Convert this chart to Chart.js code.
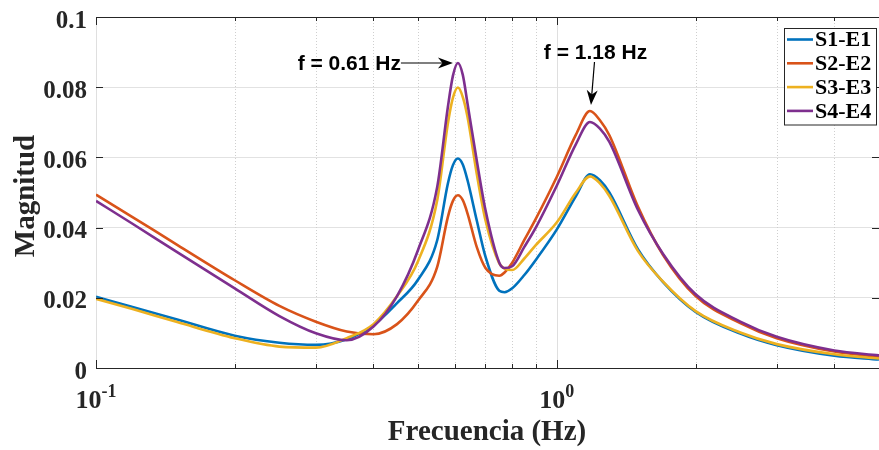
<!DOCTYPE html>
<html>
<head>
<meta charset="utf-8">
<script src="https://cdn.jsdelivr.net/npm/chart.js@4.4.0/dist/chart.umd.min.js"></script>
<style>
  html, body { margin: 0; padding: 0; background: #fff; }
  #wrap { width: 879px; height: 450px; }
</style>
</head>
<body>
<div id="wrap"><canvas id="magChart"></canvas></div>
<script>
// frequency grid (Hz) and magnitude of each response
const freqs = [0.1, 0.12, 0.15, 0.2, 0.25, 0.3, 0.35, 0.4, 0.45, 0.5, 0.55, 0.58, 0.595, 0.61, 0.625, 0.64, 0.67, 0.7,
               0.75, 0.77, 0.8, 0.85, 0.9, 1.0, 1.1, 1.18, 1.24, 1.3, 1.5, 1.7, 2, 2.5, 3, 4, 5];
const s1e1 = [0.0203, 0.0174, 0.0138, 0.0092, 0.0072, 0.0066, 0.0082, 0.0122, 0.0185, 0.0252, 0.0364, 0.0525, 0.0578, 0.0597, 0.0580, 0.0535, 0.0421, 0.0317,
              0.0220, 0.0216, 0.0227, 0.0265, 0.0308, 0.0395, 0.0490, 0.0552, 0.0535, 0.0500, 0.0338, 0.0245, 0.0160, 0.0098, 0.0065, 0.0035, 0.0024];
const s2e2 = [0.0494, 0.0430, 0.0351, 0.0250, 0.0177, 0.0132, 0.0104, 0.0096, 0.0125, 0.0192, 0.0288, 0.0430, 0.0476, 0.0492, 0.0478, 0.0440, 0.0345, 0.0285,
              0.0263, 0.0272, 0.0300, 0.0365, 0.0425, 0.0545, 0.0665, 0.0732, 0.0706, 0.0663, 0.0459, 0.0322, 0.0205, 0.0128, 0.0085, 0.0047, 0.0032];
const s3e3 = [0.0197, 0.0168, 0.0131, 0.0085, 0.0061, 0.0058, 0.0085, 0.0125, 0.0205, 0.0305, 0.0478, 0.0696, 0.0770, 0.0799, 0.0772, 0.0715, 0.0554, 0.0421,
              0.0298, 0.0283, 0.0279, 0.0312, 0.0350, 0.0415, 0.0500, 0.0546, 0.0526, 0.0490, 0.0333, 0.0246, 0.0162, 0.0101, 0.0068, 0.0039, 0.0027];
const s4e4 = [0.0476, 0.0411, 0.0330, 0.0227, 0.0148, 0.0099, 0.0079, 0.0118, 0.0205, 0.0337, 0.0516, 0.0743, 0.0833, 0.0869, 0.0835, 0.0753, 0.0592, 0.0450,
              0.0300, 0.0285, 0.0290, 0.0345, 0.0400, 0.0520, 0.0638, 0.0701, 0.0682, 0.0644, 0.0450, 0.0325, 0.0210, 0.0132, 0.0089, 0.0050, 0.0036];

const seriesNames = ['S1-E1', 'S2-E2', 'S3-E3', 'S4-E4'];
const seriesColors = ['#0072BD', '#D95319', '#EDB120', '#7E2F8E'];
const yTicks = [0, 0.02, 0.04, 0.06, 0.08, 0.1];
const peaks = [{ f: 0.61, text: 'f = 0.61 Hz' }, { f: 1.18, text: 'f = 1.18 Hz' }];

const AXIS = '#262626';
const SERIF = '"Liberation Serif", "Times New Roman", serif';
const SANS = '"Liberation Sans", Arial, sans-serif';

function toPoints(vals) {
  return freqs.map((f, i) => ({ x: f, y: vals[i] }));
}

function arrowHead(ctx, x0, y0, x1, y1, len, half) {
  const a = Math.atan2(y1 - y0, x1 - x0);
  const c = Math.cos(a), s = Math.sin(a);
  const bx = x1 - len * c, by = y1 - len * s;
  const nx = x1 - len * 0.7 * c, ny = y1 - len * 0.7 * s;
  ctx.beginPath();
  ctx.moveTo(x1, y1);
  ctx.lineTo(bx - half * s, by + half * c);
  ctx.lineTo(nx, ny);
  ctx.lineTo(bx + half * s, by - half * c);
  ctx.closePath();
  ctx.fill();
}

// log-axis grid positions: 0.1..0.9, 1..5
function xGridValues() {
  const out = [];
  for (const d of [0.1, 1]) {
    for (let k = 1; k <= 9; k++) {
      const v = d * k;
      if (v > 5.0001) break;
      out.push({ v, major: k === 1 });
    }
  }
  return out;
}

const axisDecor = {
  id: 'axisDecor',
  beforeDatasetsDraw(chart) {
    const { ctx, chartArea: a, scales: { x } } = chart;
    ctx.save();
    ctx.lineWidth = 1;
    for (const g of xGridValues()) {
      const px = Math.round(x.getPixelForValue(g.v)) + 0.5;
      if (g.major) { ctx.setLineDash([]); ctx.strokeStyle = '#dfdfdf'; }
      else { ctx.setLineDash([1, 2]); ctx.strokeStyle = '#cfcfcf'; }
      ctx.beginPath(); ctx.moveTo(px, a.top); ctx.lineTo(px, a.bottom); ctx.stroke();
    }
    ctx.restore();
  },
  afterDatasetsDraw(chart) {
    const { ctx, chartArea: a, scales: { x, y } } = chart;
    ctx.save();
    ctx.strokeStyle = AXIS;
    ctx.lineWidth = 1;
    // frame top and inward tick marks
    ctx.beginPath();
    ctx.moveTo(a.left, a.top + 0.5); ctx.lineTo(a.right, a.top + 0.5);
    for (const g of xGridValues()) {
      const px = Math.round(x.getPixelForValue(g.v)) + 0.5;
      const len = g.major ? 8 : 4;
      ctx.moveTo(px, a.bottom); ctx.lineTo(px, a.bottom - len);
      ctx.moveTo(px, a.top); ctx.lineTo(px, a.top + len);
    }
    for (const t of yTicks) {
      const py = Math.round(y.getPixelForValue(t)) + 0.5;
      ctx.moveTo(a.left, py); ctx.lineTo(a.left + 7, py);
      ctx.moveTo(a.right, py); ctx.lineTo(a.right - 7, py);
    }
    ctx.stroke();

    // y tick labels
    ctx.fillStyle = AXIS;
    ctx.font = 'bold 25px ' + SERIF;
    ctx.textAlign = 'right';
    ctx.textBaseline = 'alphabetic';
    for (const t of yTicks) {
      ctx.fillText(String(+t.toFixed(2)), a.left - 9, y.getPixelForValue(t) + 10.6);
    }

    // x tick labels 10^-1, 10^0
    [[0.1, '-1'], [1, '0']].forEach(([v, e]) => {
      ctx.font = 'bold 26px ' + SERIF;
      const wb = ctx.measureText('10').width;
      ctx.font = 'bold 18px ' + SERIF;
      const we = ctx.measureText(e).width;
      const left = x.getPixelForValue(v) - (wb + we) / 2;
      ctx.font = 'bold 26px ' + SERIF;
      ctx.textAlign = 'left';
      ctx.fillText('10', left, 408);
      ctx.font = 'bold 18px ' + SERIF;
      ctx.fillText(e, left + wb, 397);
    });

    // axis titles
    ctx.font = 'bold 29px ' + SERIF;
    ctx.textAlign = 'center';
    ctx.textBaseline = 'middle';
    ctx.fillText('Frecuencia (Hz)', 487, 433);
    ctx.save();
    ctx.translate(27, 196);
    ctx.rotate(-Math.PI / 2);
    ctx.fillText('Magnitud', 0, 0);
    ctx.restore();

    // peak annotations
    ctx.fillStyle = '#000';
    ctx.strokeStyle = '#000';
    ctx.lineWidth = 1.2;
    ctx.font = 'bold 21px ' + SANS;
    const p1y = y.getPixelForValue(Math.max(...s4e4));
    const t1 = { x: x.getPixelForValue(peaks[0].f) - 5, y: p1y };
    const b1 = { x: t1.x - 52, y: t1.y };
    ctx.beginPath(); ctx.moveTo(b1.x, b1.y); ctx.lineTo(t1.x - 8, t1.y); ctx.stroke();
    arrowHead(ctx, b1.x, b1.y, t1.x, t1.y, 15, 5.5);
    ctx.textAlign = 'right';
    ctx.textBaseline = 'alphabetic';
    ctx.fillText(peaks[0].text, b1.x, b1.y + 7);

    const p2y = y.getPixelForValue(Math.max(...s2e2));
    const t2 = { x: x.getPixelForValue(peaks[1].f) + 1, y: p2y - 6 };
    const b2 = { x: t2.x + 3.5, y: t2.y - 43 };
    ctx.beginPath(); ctx.moveTo(b2.x, b2.y); ctx.lineTo(t2.x + 0.6, t2.y - 8); ctx.stroke();
    arrowHead(ctx, b2.x, b2.y, t2.x, t2.y, 15, 5.5);
    ctx.textAlign = 'center';
    ctx.fillText(peaks[1].text, b2.x + 1, b2.y - 3);

    // legend box
    const lx = 784.5, ly = 28.5, lw = 92, lh = 96.5;
    ctx.fillStyle = '#fff';
    ctx.fillRect(lx, ly, lw, lh);
    ctx.strokeStyle = AXIS;
    ctx.lineWidth = 1;
    ctx.strokeRect(lx, ly, lw, lh);
    ctx.font = 'bold 22px ' + SERIF;
    ctx.textAlign = 'left';
    ctx.textBaseline = 'middle';
    chart.data.datasets.forEach((ds, i) => {
      const ry = 39.5 + i * 23.8;
      ctx.strokeStyle = ds.borderColor;
      ctx.lineWidth = 2.6;
      ctx.beginPath(); ctx.moveTo(787, ry); ctx.lineTo(813, ry); ctx.stroke();
      ctx.fillStyle = '#000';
      ctx.fillText(ds.label, 815, ry + 1);
    });
    ctx.restore();
  }
};

const seriesValues = [s1e1, s2e2, s3e3, s4e4];

new Chart(document.getElementById('magChart'), {
  type: 'line',
  data: {
    datasets: seriesValues.map((vals, i) => ({
      label: seriesNames[i],
      data: toPoints(vals),
      borderColor: seriesColors[i],
      backgroundColor: seriesColors[i],
      borderWidth: 2.6,
      pointRadius: 0,
      cubicInterpolationMode: 'monotone',
      order: seriesValues.length - i
    }))
  },
  options: {
    responsive: true,
    maintainAspectRatio: false,
    animation: false,
    events: [],
    layout: { padding: { top: 17, right: 0, bottom: 0, left: 0 } },
    plugins: {
      legend: { display: false },
      tooltip: { enabled: false }
    },
    scales: {
      x: {
        type: 'logarithmic',
        min: 0.1,
        max: 5,
        grid: { display: false },
        border: { display: true, color: AXIS, width: 1 },
        ticks: { display: false },
        afterFit(scale) { scale.height = 82; }
      },
      y: {
        min: 0,
        max: 0.1,
        afterBuildTicks(scale) { scale.ticks = yTicks.map(v => ({ value: v })); },
        grid: { color: '#e2e2e2', lineWidth: 1, drawTicks: false },
        border: { display: true, color: AXIS, width: 1 },
        ticks: { display: false },
        afterFit(scale) { scale.width = 96; }
      }
    }
  },
  plugins: [axisDecor]
});
</script>
</body>
</html>
